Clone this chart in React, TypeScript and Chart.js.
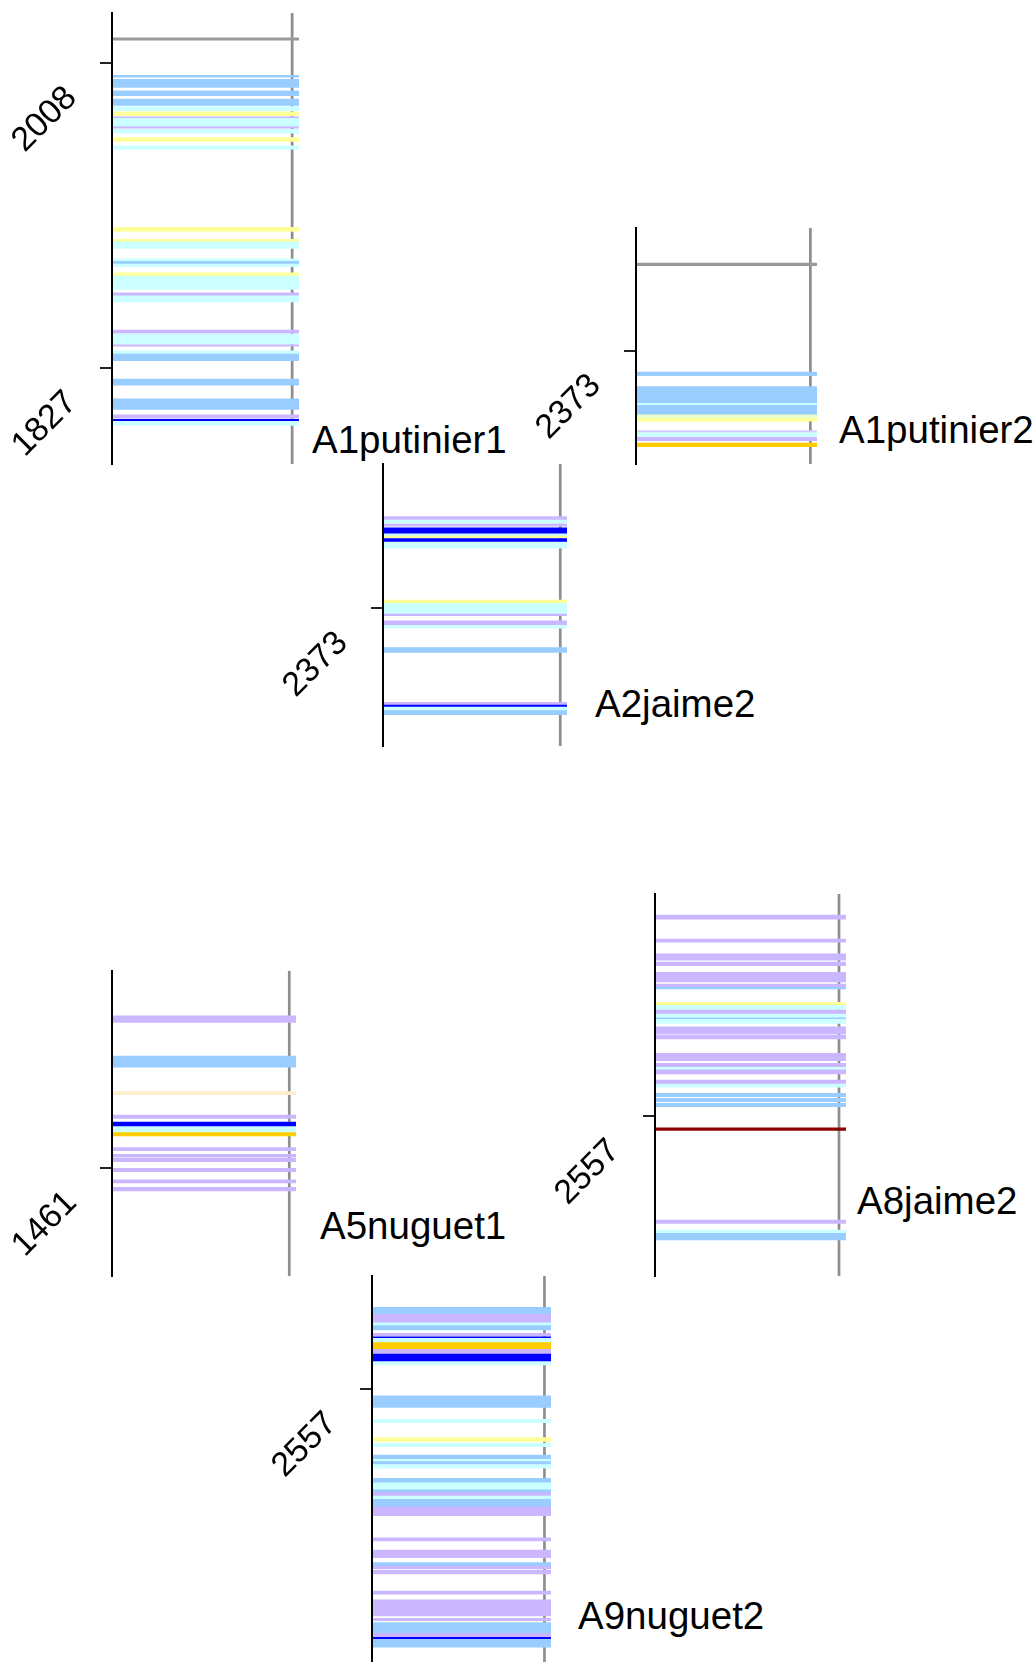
import React, { useEffect, useRef } from 'react';
import { Chart, registerables } from 'chart.js';

Chart.register(...registerables);
Chart.defaults.font.family = '"Liberation Sans", Arial, sans-serif';

// ---------- DATA (values in days) ----------
const panelNames = ['A1putinier1', 'A1putinier2', 'A2jaime2', 'A5nuguet1', 'A8jaime2', 'A9nuguet2'];

const p1Ticks = [2008, 1827];
const p2Ticks = [2373];
const p3Ticks = [2373];
const p4Ticks = [1461];
const p5Ticks = [2557];
const p6Ticks = [2557];

const p1Range = [1769.8, 2037.9];
const p2Range = [2305.6, 2445.9];
const p3Range = [2291.1, 2458.8];
const p4Range = [1396.8, 1578.1];
const p5Range = [2461.9, 2689.0];
const p6Range = [2394.5, 2624.0];

// [from, to, category]
type Band = [number, number, string];

const p1Bands: Band[] = [
  [2021.7, 2023.2, 'E'],
  [1999.7, 2000.9, 'B'], [1993.7, 1998.5, 'B'], [1988.7, 1991.7, 'B'], [1983.0, 1986.8, 'B'],
  [1979.8, 1982.2, 'C'], [1976.9, 1979.2, 'Y'], [1975.3, 1976.2, 'P'], [1970.3, 1975.3, 'C'],
  [1969.5, 1970.3, 'P'], [1966.4, 1968.8, 'C'], [1961.6, 1963.8, 'Y'], [1956.9, 1959.0, 'C'],
  [1908.1, 1910.5, 'Y'], [1901.8, 1903.4, 'Y'], [1898.0, 1901.8, 'C'], [1887.1, 1891.8, 'C'],
  [1889.1, 1890.3, 'B'], [1881.5, 1883.5, 'Y'], [1873.6, 1881.5, 'C'], [1869.7, 1871.6, 'P'],
  [1866.1, 1869.7, 'C'], [1847.5, 1849.4, 'P'], [1841.1, 1847.1, 'C'], [1839.9, 1840.7, 'P'],
  [1835.2, 1837.1, 'C'], [1831.2, 1835.2, 'B'], [1816.6, 1820.3, 'B'], [1802.3, 1808.6, 'B'],
  [1797.1, 1799.1, 'P'], [1792.8, 1795.5, 'C'], [1795.5, 1796.3, 'D'],
];

const p2Bands: Band[] = [
  [2423.5, 2425.1, 'E'],
  [2358.1, 2360.2, 'B'], [2341.7, 2351.6, 'B'], [2340.5, 2341.7, 'C'], [2335.0, 2340.5, 'B'],
  [2332.8, 2334.8, 'Q'], [2331.0, 2332.8, 'Y'], [2324.3, 2325.4, 'L'], [2321.7, 2324.3, 'C'],
  [2319.5, 2321.5, 'P'], [2315.9, 2318.0, 'G'],
];

const p3Bands: Band[] = [
  [2425.5, 2427.5, 'P'], [2423.5, 2425.5, 'C'], [2421.9, 2423.1, 'P'], [2417.2, 2420.9, 'D'],
  [2416.0, 2417.2, 'C'], [2415.0, 2416.0, 'Y'], [2412.4, 2414.4, 'D'], [2408.7, 2412.4, 'C'],
  [2376.0, 2377.9, 'Y'], [2369.0, 2376.0, 'C'], [2368.6, 2369.6, 'P'], [2362.9, 2365.6, 'P'],
  [2361.1, 2362.9, 'C'], [2346.8, 2349.6, 'B'], [2315.5, 2317.1, 'P'], [2314.3, 2315.5, 'D'],
  [2312.1, 2314.3, 'C'], [2309.7, 2312.1, 'B'],
];

const p4Bands: Band[] = [
  [1547.6, 1551.4, 'P'], [1520.9, 1527.6, 'B'], [1504.6, 1506.4, 'W'], [1490.5, 1492.5, 'P'],
  [1485.6, 1488.3, 'D'], [1482.0, 1485.6, 'C'], [1480.0, 1482.0, 'G'], [1471.3, 1473.1, 'P'],
  [1467.4, 1469.1, 'P'], [1464.7, 1466.8, 'P'], [1458.8, 1460.8, 'P'], [1452.1, 1454.0, 'P'],
  [1447.3, 1449.5, 'P'],
];

const p5Bands: Band[] = [
  [2674.1, 2676.5, 'P'], [2660.3, 2662.2, 'P'], [2649.6, 2653.5, 'P'], [2646.4, 2648.6, 'P'],
  [2636.7, 2642.4, 'P'], [2633.5, 2635.5, 'P'], [2632.5, 2633.5, 'B'], [2622.8, 2624.6, 'Y'],
  [2620.4, 2622.8, 'C'], [2617.6, 2620.0, 'P'], [2615.7, 2617.6, 'C'], [2614.5, 2615.4, 'B'],
  [2612.1, 2614.5, 'C'], [2605.8, 2610.1, 'P'], [2602.8, 2605.2, 'P'], [2589.9, 2594.3, 'P'],
  [2586.0, 2588.3, 'P'], [2584.4, 2586.0, 'C'], [2582.0, 2584.4, 'P'], [2576.0, 2578.4, 'P'],
  [2574.1, 2576.0, 'C'], [2568.5, 2570.5, 'B'], [2565.5, 2567.5, 'B'], [2562.5, 2564.5, 'B'],
  [2548.5, 2550.0, 'R'], [2493.2, 2495.2, 'P'], [2487.3, 2489.2, 'C'], [2483.3, 2487.3, 'B'],
];

const p6Bands: Band[] = [
  [2601.4, 2605.4, 'B'], [2596.2, 2601.4, 'P'], [2594.5, 2596.2, 'C'], [2591.9, 2594.5, 'B'],
  [2588.3, 2589.9, 'P'], [2587.0, 2587.9, 'D'], [2584.4, 2587.0, 'C'], [2580.4, 2584.4, 'G'],
  [2577.6, 2580.4, 'P'], [2573.1, 2577.6, 'D'], [2571.1, 2573.1, 'C'], [2545.9, 2552.7, 'B'],
  [2536.8, 2538.8, 'C'], [2525.7, 2527.9, 'Y'], [2522.5, 2524.5, 'C'], [2515.0, 2517.6, 'B'],
  [2513.6, 2515.0, 'C'], [2511.9, 2513.6, 'B'], [2509.7, 2511.9, 'C'], [2501.1, 2503.7, 'B'],
  [2496.8, 2501.1, 'C'], [2495.2, 2496.8, 'B'], [2493.2, 2495.2, 'P'], [2491.2, 2493.2, 'C'],
  [2486.8, 2491.2, 'B'], [2481.5, 2486.8, 'P'], [2466.5, 2468.4, 'P'], [2456.5, 2461.1, 'P'],
  [2451.6, 2453.6, 'B'], [2450.0, 2451.6, 'P'], [2446.8, 2449.2, 'P'], [2434.8, 2436.7, 'P'],
  [2421.9, 2431.4, 'P'], [2419.1, 2420.5, 'P'], [2411.6, 2417.9, 'B'], [2409.6, 2411.6, 'P'],
  [2408.0, 2409.2, 'D'], [2403.3, 2408.0, 'B'],
];

// ---------- STYLES / LAYOUT ----------
const COLORS: Record<string, string> = {
  B: '#99CCFF', C: '#CCFFFF', Y: '#FFFF99', P: '#CBB7FF', L: '#D8CCFF', D: '#0000FF',
  G: '#FFCC00', W: '#FFEECC', R: '#8B0000', E: '#999999', Q: '#E8FFCC',
};

const FRAME_X = 1; // right frame line on hidden 0..X_MAX axis
const X_MAX = 1.038;
const AXIS_W = 120;
const PAD = 4;
const TICK_FONT = 34;
const NAME_FONT = 38.5;

// page-pixel layout: axis x (L), band end (R), top, bottom, name x, name baseline
const LAYOUT = [
  { L: 112, R: 299, top: 13, bottom: 464, nx: 312, nb: 454 },
  { L: 636, R: 817, top: 228, bottom: 464, nx: 839, nb: 444 },
  { L: 383, R: 567, top: 464, bottom: 746, nx: 595, nb: 718 },
  { L: 112, R: 296, top: 971, bottom: 1276, nx: 320, nb: 1240 },
  { L: 655, R: 846, top: 894, bottom: 1276, nx: 857, nb: 1215 },
  { L: 372, R: 551, top: 1276, bottom: 1662, nx: 578, nb: 1630 },
];

const PANELS = [
  { name: panelNames[0], ticks: p1Ticks, range: p1Range, bands: p1Bands },
  { name: panelNames[1], ticks: p2Ticks, range: p2Range, bands: p2Bands },
  { name: panelNames[2], ticks: p3Ticks, range: p3Range, bands: p3Bands },
  { name: panelNames[3], ticks: p4Ticks, range: p4Range, bands: p4Bands },
  { name: panelNames[4], ticks: p5Ticks, range: p5Range, bands: p5Bands },
  { name: panelNames[5], ticks: p6Ticks, range: p6Range, bands: p6Bands },
];

function Panel({ idx }: { idx: number }) {
  const ref = useRef<HTMLCanvasElement>(null);
  const p = PANELS[idx];
  const lay = LAYOUT[idx];
  const left = lay.L - AXIS_W;
  const top = lay.top - PAD;
  const width = lay.R - left + 2;
  const height = lay.bottom - lay.top + 2 * PAD;

  useEffect(() => {
    const datasets: any[] = p.bands.map((b, i) => ({
      type: 'bar',
      data: [[b[0], b[1]]],
      backgroundColor: COLORS[b[2]],
      borderWidth: 0,
      grouped: false,
      barPercentage: 1,
      categoryPercentage: 1,
      xAxisID: 'x',
      yAxisID: 'y',
      order: -i,
    }));
    datasets.push({
      type: 'line',
      data: [{ x: FRAME_X, y: p.range[0] }, { x: FRAME_X, y: p.range[1] }],
      borderColor: '#8E8E8E',
      borderWidth: 2.7,
      pointRadius: 0,
      xAxisID: 'x2',
      yAxisID: 'y',
      order: 1000,
    });
    const chart = new Chart(ref.current!, {
      type: 'bar',
      data: { labels: [''], datasets },
      options: {
        responsive: false,
        animation: false,
        devicePixelRatio: 1,
        events: [],
        layout: { padding: { top: PAD, bottom: PAD, left: 0, right: 2 } },
        plugins: { legend: { display: false }, tooltip: { enabled: false } },
        scales: {
          x: { type: 'category', display: false, offset: true },
          x2: { type: 'linear', display: false, min: 0, max: X_MAX, offset: false, grid: { offset: false } },
          y: {
            type: 'linear',
            min: p.range[0],
            max: p.range[1],
            afterBuildTicks: (s: any) => { s.ticks = p.ticks.map((v) => ({ value: v })); },
            afterFit: (s: any) => { s.width = AXIS_W; s.paddingTop = 0; s.paddingBottom = 0; },
            border: { display: true, color: '#000000', width: 2, z: 1 },
            grid: { drawOnChartArea: false, drawTicks: true, tickLength: 12, color: '#222222', lineWidth: 2 },
            ticks: {
              autoSkip: false,
              callback: (v: any) => String(v),
              minRotation: 45,
              maxRotation: 45,
              padding: 28.5,
              labelOffset: 29.5,
              color: '#000000',
              font: { size: TICK_FONT },
            },
          },
        },
      } as any,
    });
    return () => chart.destroy();
  }, []);

  return (
    <>
      <canvas
        ref={ref}
        width={width}
        height={height}
        style={{ position: 'absolute', left, top, width, height }}
      />
      <div
        style={{
          position: 'absolute',
          left: lay.nx,
          top: lay.nb - 0.8465 * NAME_FONT,
          fontFamily: '"Liberation Sans", Arial, sans-serif',
          fontSize: NAME_FONT,
          lineHeight: NAME_FONT + 'px',
          whiteSpace: 'nowrap',
          color: '#000',
        }}
      >
        {p.name}
      </div>
    </>
  );
}

export default function App() {
  return (
    <div
      style={{
        position: 'absolute',
        left: 0,
        top: 0,
        width: 1035,
        height: 1662,
        overflow: 'hidden',
        background: '#fff',
      }}
    >
      {PANELS.map((_, i) => (
        <Panel key={i} idx={i} />
      ))}
    </div>
  );
}
